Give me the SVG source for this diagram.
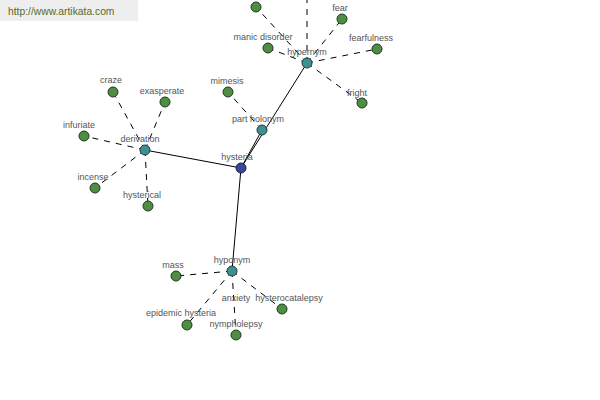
<svg xmlns="http://www.w3.org/2000/svg" width="600" height="400" viewBox="0 0 600 400">
<style>
.solid{stroke:#000;stroke-width:1;fill:none}
.dash{stroke:#000;stroke-width:1;fill:none;stroke-dasharray:6,6}
.leaf{fill:#4f8d45;stroke:#1f3a1f;stroke-width:1}
.rel{fill:#3f9090;stroke:#1f3a3a;stroke-width:1}
.root{fill:#3d4596;stroke:#1a1f4a;stroke-width:1}
text{font-family:"Liberation Sans",Arial,sans-serif;font-size:9px;fill:#555;text-anchor:middle}
</style>
<rect x="0" y="0" width="138" height="21" fill="#eeeeee"/>
<text x="8" y="15" style="font-size:10.3px;fill:#556b2f;text-anchor:start">http://www.artikata.com</text>
<g id="connectors">
<line class="solid" x1="241" y1="168" x2="307" y2="63"/>
<line class="solid" x1="241" y1="168" x2="262" y2="130"/>
<line class="solid" x1="241" y1="168" x2="145" y2="150"/>
<line class="solid" x1="241" y1="168" x2="232" y2="271"/>
<line class="dash" x1="307" y1="63" x2="307" y2="-10"/>
<line class="dash" x1="307" y1="63" x2="256" y2="7"/>
<line class="dash" x1="307" y1="63" x2="342" y2="19"/>
<line class="dash" x1="307" y1="63" x2="268" y2="48"/>
<line class="dash" x1="307" y1="63" x2="377" y2="49"/>
<line class="dash" x1="307" y1="63" x2="362" y2="103"/>
<line class="dash" x1="262" y1="130" x2="228" y2="92"/>
<line class="dash" x1="145" y1="150" x2="113" y2="92"/>
<line class="dash" x1="145" y1="150" x2="165" y2="102"/>
<line class="dash" x1="145" y1="150" x2="84" y2="136"/>
<line class="dash" x1="145" y1="150" x2="95" y2="188"/>
<line class="dash" x1="145" y1="150" x2="148" y2="206"/>
<line class="dash" x1="232" y1="271" x2="176" y2="276"/>
<line class="dash" x1="232" y1="271" x2="187" y2="325"/>
<line class="dash" x1="232" y1="271" x2="236" y2="335"/>
<line class="dash" x1="232" y1="271" x2="282" y2="309"/>
</g>
<g id="n-top"><circle class="leaf" cx="256" cy="7" r="5"/></g>
<g id="n-fear"><circle class="leaf" cx="342" cy="19" r="5"/><text x="340" y="11">fear</text></g>
<g id="n-manic"><circle class="leaf" cx="268" cy="48" r="5"/><text x="263" y="40">manic disorder</text></g>
<g id="n-fearfulness"><circle class="leaf" cx="377" cy="49" r="5"/><text x="371" y="41">fearfulness</text></g>
<g id="n-fright"><circle class="leaf" cx="362" cy="103" r="5"/><text x="357" y="96">fright</text></g>
<g id="n-mimesis"><circle class="leaf" cx="228" cy="92" r="5"/><text x="227" y="84">mimesis</text></g>
<g id="n-craze"><circle class="leaf" cx="113" cy="92" r="5"/><text x="111" y="83">craze</text></g>
<g id="n-exasperate"><circle class="leaf" cx="165" cy="102" r="5"/><text x="162" y="94">exasperate</text></g>
<g id="n-infuriate"><circle class="leaf" cx="84" cy="136" r="5"/><text x="79" y="128">infuriate</text></g>
<g id="n-incense"><circle class="leaf" cx="95" cy="188" r="5"/><text x="93" y="180">incense</text></g>
<g id="n-hysterical"><circle class="leaf" cx="148" cy="206" r="5"/><text x="142" y="198">hysterical</text></g>
<g id="n-mass"><circle class="leaf" cx="176" cy="276" r="5"/><text x="173" y="268">mass</text></g>
<g id="n-epidemic"><circle class="leaf" cx="187" cy="325" r="5"/><text x="181" y="316">epidemic hysteria</text></g>
<g id="n-nympholepsy"><circle class="leaf" cx="236" cy="335" r="5"/><text x="236" y="327">nympholepsy</text></g>
<g id="n-hysterocatalepsy"><circle class="leaf" cx="282" cy="309" r="5"/><text x="289" y="301">hysterocatalepsy</text></g>
<g id="n-anxiety"><text x="236" y="301">anxiety</text></g>
<g id="n-hypernym"><circle class="rel" cx="307" cy="63" r="5"/><text x="307" y="55">hypernym</text></g>
<g id="n-partholonym"><circle class="rel" cx="262" cy="130" r="5"/><text x="258" y="122">part holonym</text></g>
<g id="n-derivation"><circle class="rel" cx="145" cy="150" r="5"/><text x="140" y="142">derivation</text></g>
<g id="n-hyponym"><circle class="rel" cx="232" cy="271" r="5"/><text x="232" y="263">hyponym</text></g>
<g id="n-hysteria"><circle class="root" cx="241" cy="168" r="5"/><text x="237" y="160">hysteria</text></g>
</svg>
